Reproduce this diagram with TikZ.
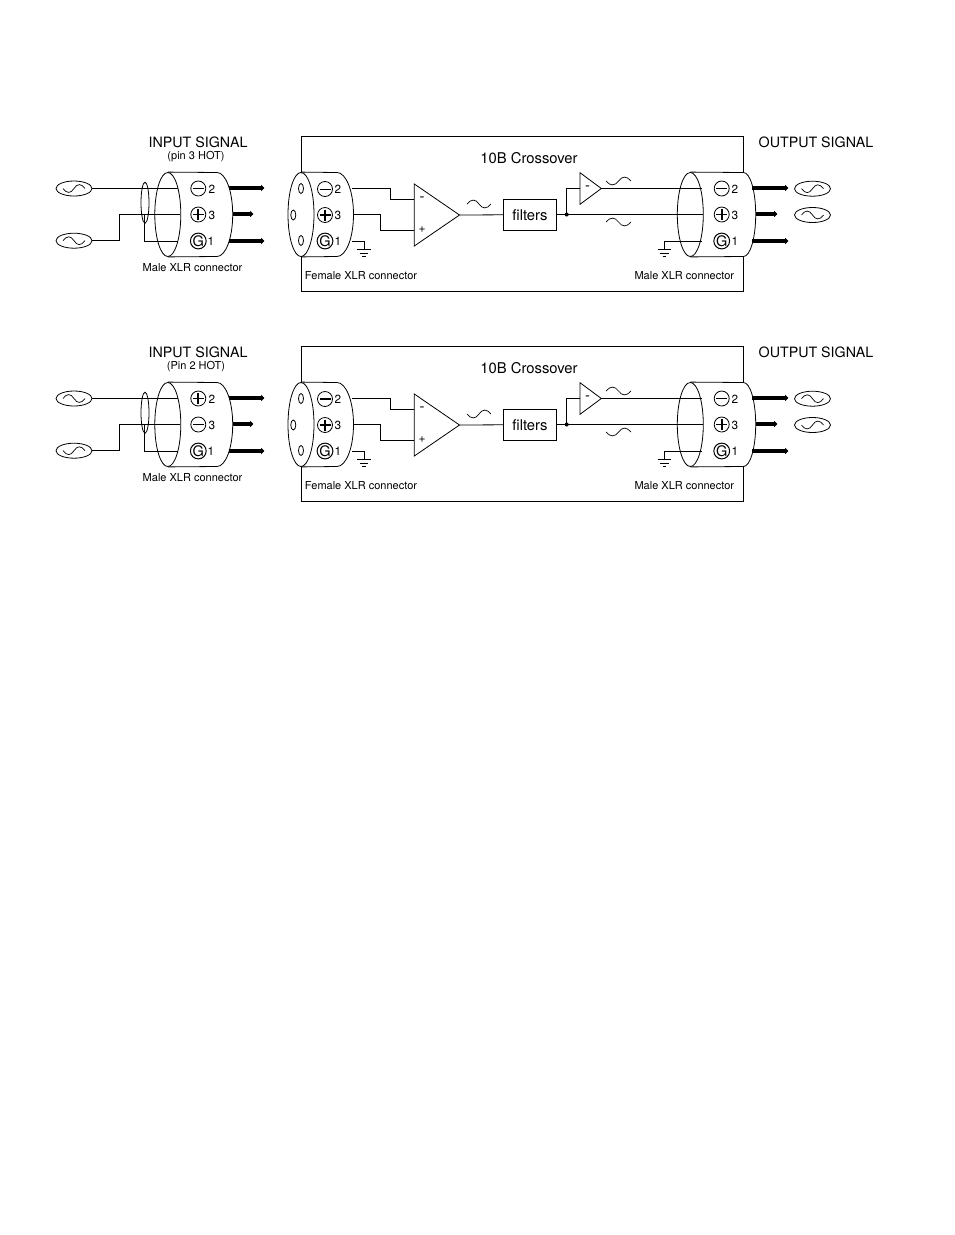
\documentclass[tikz,border=0pt]{standalone}
\usepackage{fontspec}
\setmainfont{TeX Gyre Heros}
\usetikzlibrary{shapes.geometric,arrows.meta}
\tikzset{
  wire/.style={line width=0.8pt},
  power/.style={line width=3.6pt,-{Triangle[length=3.5pt,width=6.2pt,inset=0pt]}},
  pinring/.style={circle,draw,line width=0.8pt,minimum size=15pt,inner sep=0pt},
  source/.style={ellipse,draw,line width=0.8pt,minimum width=36pt,minimum height=15pt,inner sep=0pt},
  shellend/.style={ellipse,draw,line width=0.8pt,minimum width=26pt,minimum height=84pt,inner sep=0pt},
  hole/.style={ellipse,draw,line width=0.8pt,minimum width=5pt,minimum height=10pt,inner sep=0pt},
  boxnode/.style={draw,line width=0.8pt,minimum width=53.4pt,minimum height=31pt,inner sep=0pt},
  title/.style={font=\fontsize{14.25}{14.25}\selectfont,inner sep=0pt},
  heading/.style={font=\fontsize{14.8}{14.8}\selectfont,inner sep=0pt},
  signmark/.style={font=\fontsize{12}{12}\selectfont,inner sep=0pt},
  small/.style={font=\fontsize{11}{11}\selectfont,inner sep=0pt},
  digit/.style={font=\fontsize{11.8}{11.8}\selectfont,inner sep=0pt},
  dotnode/.style={circle,fill,minimum size=4pt,inner sep=0pt},
}
% #1 x, #2 y, #3 half width, #4 sign (1: trough left, peak right)
\newcommand{\sinewave}[4]{%
  \draw[line width=0.7pt,shift={(#1,#2)},yscale=#4]
    (-#3,0) .. controls (-#3*0.65,5.2) and (-#3*0.3,5.2) .. (0,0)
    .. controls (#3*0.3,-5.2) and (#3*0.65,-5.2) .. (#3,0);}
\newcommand{\pinminus}[3]{%
  \node[pinring] (#1) at (#2,#3) {};
  \draw[line width=\minuswd] (#1.center) ++(-5.5,0) -- ++(11,0);}
\newcommand{\pinplus}[3]{%
  \node[pinring] (#1) at (#2,#3) {};
  \draw[line width=1.7pt] (#1.center) ++(-5.5,0) -- ++(11,0);
  \draw[line width=1.7pt] (#1.center) ++(0,-5.5) -- ++(0,11);}
\newcommand{\pinground}[3]{%
  \node[pinring,line width=1pt,font=\fontsize{14.5}{14.5}\selectfont] (#1) at (#2,#3) {G};}
% #1 name, #2 x of ellipse, #3 x of arc start, #4 bulge x
\newcommand{\shell}[4]{%
  \node[shellend] (#1) at (#2,214.5) {};
  \draw[wire] (#1.north) -- (#3,172.5)
    .. controls (#3+0.5523*#4-0.5523*#3,172.5) and (#4,214.5-23.2) .. (#4,214.5)
    .. controls (#4,214.5+23.2) and (#3+0.5523*#4-0.5523*#3,256.5) .. (#3,256.5)
    -- (#1.south);}
\newcommand{\earth}[1]{%
  \draw[wire] (#1-6.7,249) -- (#1+6.7,249);
  \draw[wire] (#1-4.2,253) -- (#1+4.2,253);
  \draw[wire] (#1-1.7,256.5) -- (#1+1.7,256.5);}
% #1 prefix, #2 offset, #3 subtitle, #4 wave sign, #5 top input pin, #6 mid input pin, #7 minus width
\newcommand{\panel}[7]{%
\def\minuswd{#7}%
\begin{scope}[shift={(0,#2)},name prefix=#1-]
  % titles
  \node[title] (intitle) at (198,142) {INPUT SIGNAL};
  \node[small] (insub) at (196,157) {#3};
  \node[title] (outtitle) at (816,142) {OUTPUT SIGNAL};
  \node[heading] (boxtitle) at (529,158) {10B Crossover};
  \node[small] (inlabel) at (192.5,268) {Male XLR connector};
  \node[small] (femlabel) at (361,275.7) {Female XLR connector};
  \node[small] (malelabel) at (684.3,275.7) {Male XLR connector};
  % enclosure
  \coordinate (tl) at (301.5,136.5); \coordinate (tr) at (743.5,136.5);
  \coordinate (bl) at (301.5,291); \coordinate (br) at (743.5,291);
  \draw[wire] (301.5,172.8) -- (tl) -- (tr) -- (743.5,172.5);
  \draw[wire] (301.5,256.2) -- (bl) -- (br) -- (743.5,256.5);
  % input side
  \node[source] (s1) at (74,188.5) {};
  \node[source] (s2) at (74,240.7) {};
  \sinewave{74}{188.5}{11}{#4}
  \sinewave{74}{240.7}{11}{-#4}
  \node[ellipse,draw,line width=0.8pt,minimum width=8pt,minimum height=41pt,inner sep=0pt] (screen) at (145,202.7) {};
  \shell{inshell}{167.8}{217}{232.7}
  #5{ia}{198.3}{188.5}
  #6{ib}{198.3}{214.5}
  \pinground{ig}{198.3}{241}
  \node[digit] at (212,189) {2};
  \node[digit] at (212,215) {3};
  \node[digit] at (211,241.5) {1};
  \coordinate (ia1) at (178,188.5);
  \coordinate (ib1) at (180,214);
  \coordinate (ig1) at (178,241);
  \draw[wire] (s1.east) -- (ia1);
  \draw[wire] (s2.east) -- (119,240.7) -- (119,214) -- (ib1);
  \draw[wire] (144.5,214) -- (144.5,241) -- (ig1);
  \coordinate (ap1) at (229,188); \coordinate (aq1) at (264.5,188);
  \coordinate (ap2) at (233,214); \coordinate (aq2) at (253.5,214);
  \coordinate (ap3) at (229,241); \coordinate (aq3) at (264.5,241);
  \draw[power] (ap1) -- (aq1);
  \draw[power] (ap2) -- (aq2);
  \draw[power] (ap3) -- (aq3);
  % female connector
  \shell{fshell}{301}{337}{353.5}
  \node[hole] (h1) at (301,188.5) {};
  \node[hole] (h2) at (293.3,215) {};
  \node[hole] (h3) at (301,240.5) {};
  \pinminus{fa}{325}{189}
  \pinplus{fb}{325}{215}
  \pinground{fg}{325}{241}
  \node[digit] at (338,189.5) {2};
  \node[digit] at (338,215.5) {3};
  \node[digit] at (338,241.5) {1};
  % main op amp
  \coordinate (oa1) at (414.3,184);
  \coordinate (oa2) at (414.3,246);
  \coordinate (oat) at (459.5,215);
  \draw[wire] (oa1) -- (oat) -- (oa2) -- cycle;
  \node[heading] at (422,199) {-};
  \node[signmark] at (422,230) {+};
  \coordinate (fa1) at (352,188.5);
  \coordinate (fb1) at (353,214.3);
  \coordinate (fg1) at (352,241.5);
  \draw[wire] (fa1) -- (390.7,188.5) -- (390.7,199.7) -- (414.3,199.7);
  \draw[wire] (fb1) -- (380.7,214.3) -- (380.7,230.3) -- (414.3,230.3);
  \draw[wire] (fg1) -- (364,241.5) -- (364,249);
  \earth{364}
  \sinewave{479}{204}{12}{-#4}
  % filters
  \node[boxnode,font=\fontsize{14.8}{14.8}\selectfont] (filt) at (530,214.8) {filters};
  \draw[wire] (oat) -- (filt.west);
  \node[dotnode] (junc) at (566.7,214.5) {};
  \coordinate (sb1) at (580,172.7);
  \coordinate (sb2) at (580,204.3);
  \coordinate (sbt) at (601.3,188.5);
  \draw[wire] (sb1) -- (sbt) -- (sb2) -- cycle;
  \node[heading] at (587.7,188) {-};
  \draw[wire] (junc.center) -- (566.7,188.5) -- (580,188.5);
  % male output connector
  \shell{oshell}{690.3}{743.5}{755.7}
  \coordinate (oa) at (702,188.5);
  \coordinate (ob) at (703,214.5);
  \coordinate (og) at (702,241.3);
  \draw[wire] (filt.east |- junc) -- (ob);
  \draw[wire] (sbt) -- (oa);
  \draw[wire] (og) -- (664.3,241.3) -- (664.3,249);
  \earth{664.3}
  \sinewave{618.5}{181}{12.5}{#4}
  \sinewave{618.5}{222}{12.5}{-#4}
  \pinminus{oam}{721.7}{188.5}
  \pinplus{obm}{721.7}{214.5}
  \pinground{ogm}{721.7}{241}
  \node[digit] at (735,189) {2};
  \node[digit] at (735,215) {3};
  \node[digit] at (735,241.5) {1};
  \coordinate (bp1) at (752,188); \coordinate (bq1) at (788.5,188);
  \coordinate (bp2) at (755.5,214); \coordinate (bq2) at (777.5,214);
  \coordinate (bp3) at (752,241); \coordinate (bq3) at (788.5,241);
  \draw[power] (bp1) -- (bq1);
  \draw[power] (bp2) -- (bq2);
  \draw[power] (bp3) -- (bq3);
  \node[source] (t1) at (812.5,188.7) {};
  \node[source] (t2) at (812.5,215) {};
  \sinewave{812.5}{188.7}{11}{#4}
  \sinewave{812.5}{215}{11}{-#4}
\end{scope}}
\begin{document}
\begin{tikzpicture}[x=1pt,y=-1pt]
\useasboundingbox (0,0) rectangle (954,1235);
\panel{a}{0}{(pin 3 HOT)}{1}{\pinminus}{\pinplus}{0.8pt}
\panel{b}{210}{(Pin 2 HOT)}{-1}{\pinplus}{\pinminus}{1.7pt}
\end{tikzpicture}
\end{document}
